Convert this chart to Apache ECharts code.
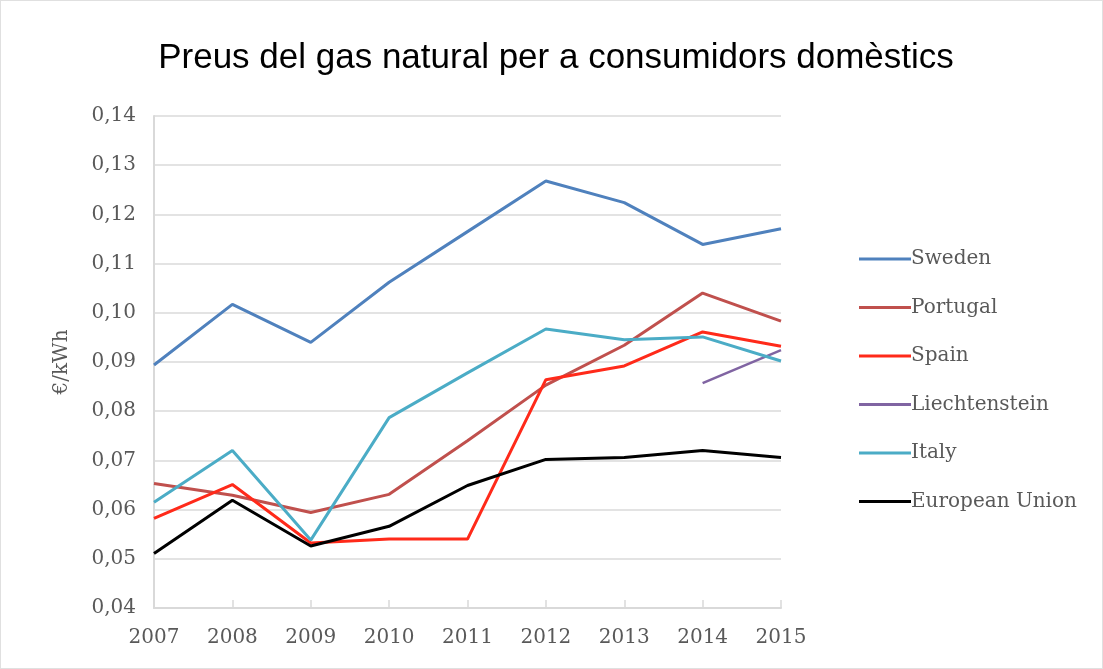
<!DOCTYPE html>
<html>
<head>
<meta charset="utf-8">
<script src="https://cdn.jsdelivr.net/npm/echarts@6/dist/echarts.min.js"></script>
<style>
  html, body { margin: 0; padding: 0; background: #fff; }
  #main { width: 1103px; height: 669px; box-sizing: border-box; border: 1px solid #e0e0e0; }
</style>
</head>
<body>
<div id="main"></div>
<script>
  // dades llegides del gràfic
  var years = ['2007', '2008', '2009', '2010', '2011', '2012', '2013', '2014', '2015'];
  var sweden = [0.0894, 0.1017, 0.0940, 0.1062, 0.1165, 0.1268, 0.1224, 0.1139, 0.1171];
  var portugal = [0.0653, 0.0629, 0.0594, 0.0631, 0.0740, 0.0853, 0.0934, 0.1040, 0.0983];
  var spain = [0.0582, 0.0651, 0.0532, 0.0540, 0.0540, 0.0864, 0.0892, 0.0961, 0.0932];
  var liechtenstein = [null, null, null, null, null, null, null, 0.0857, 0.0924];
  var italy = [0.0615, 0.0720, 0.0538, 0.0787, 0.0878, 0.0967, 0.0945, 0.0951, 0.0902];
  var eu = [0.0511, 0.0619, 0.0526, 0.0566, 0.0649, 0.0702, 0.0706, 0.0720, 0.0706];

  var labelFont = '"DejaVu Serif", "Liberation Serif", serif';
  var chart = echarts.init(document.getElementById('main'));

  function line(name, data, color, width) {
    return {
      name: name,
      type: 'line',
      data: data,
      symbol: 'none',
      smooth: false,
      connectNulls: false,
      lineStyle: {color: color, width: width || 3},
      itemStyle: {color: color}
    };
  }

  chart.setOption({
    animation: false,
    backgroundColor: '#fff',
    title: {
      text: 'Preus del gas natural per a consumidors domèstics',
      left: 550,
      textAlign: 'center',
      top: 35,
      textStyle: {
        fontFamily: '"Liberation Sans", Arial, sans-serif',
        fontWeight: 'normal',
        fontSize: 35,
        color: '#000'
      }
    },
    legend: {
      orient: 'vertical',
      left: 853,
      top: 243,
      icon: 'rect',
      itemWidth: 52,
      itemHeight: 3,
      itemGap: 28.5,
      textStyle: {
        fontFamily: labelFont,
        fontSize: 20,
        color: '#595959',
        lineHeight: 20,
        padding: [0, 0, 0, -5]
      },
      data: ['Sweden', 'Portugal', 'Spain', 'Liechtenstein', 'Italy', 'European Union']
    },
    grid: {left: 153, right: 321, top: 115, bottom: 60},
    xAxis: {
      type: 'category',
      data: years,
      boundaryGap: false,
      axisLine: {lineStyle: {color: '#d9d9d9', width: 2}},
      axisTick: {inside: true, length: 8, lineStyle: {color: '#d9d9d9', width: 1.5}},
      axisLabel: {
        fontFamily: labelFont,
        fontSize: 20,
        color: '#595959',
        margin: 20
      }
    },
    yAxis: {
      type: 'value',
      min: 0.04,
      max: 0.14,
      interval: 0.01,
      name: '€/kWh',
      nameLocation: 'middle',
      nameGap: 82,
      nameTextStyle: {fontFamily: labelFont, fontSize: 20, color: '#595959'},
      axisLine: {show: true, lineStyle: {color: '#d9d9d9', width: 2}},
      axisTick: {show: false},
      splitLine: {lineStyle: {color: '#e3e3e3', width: 2}},
      axisLabel: {
        fontFamily: labelFont,
        fontSize: 20,
        color: '#595959',
        margin: 18,
        formatter: function (v) {
          return v.toFixed(2).replace('.', ',');
        }
      }
    },
    series: [
      line('Sweden', sweden, '#4f81bd'),
      line('Portugal', portugal, '#c0504d'),
      line('Spain', spain, '#ff2a1a'),
      line('Liechtenstein', liechtenstein, '#8064a2', 2.5),
      line('Italy', italy, '#4bacc6'),
      line('European Union', eu, '#000000')
    ]
  });
</script>
</body>
</html>
